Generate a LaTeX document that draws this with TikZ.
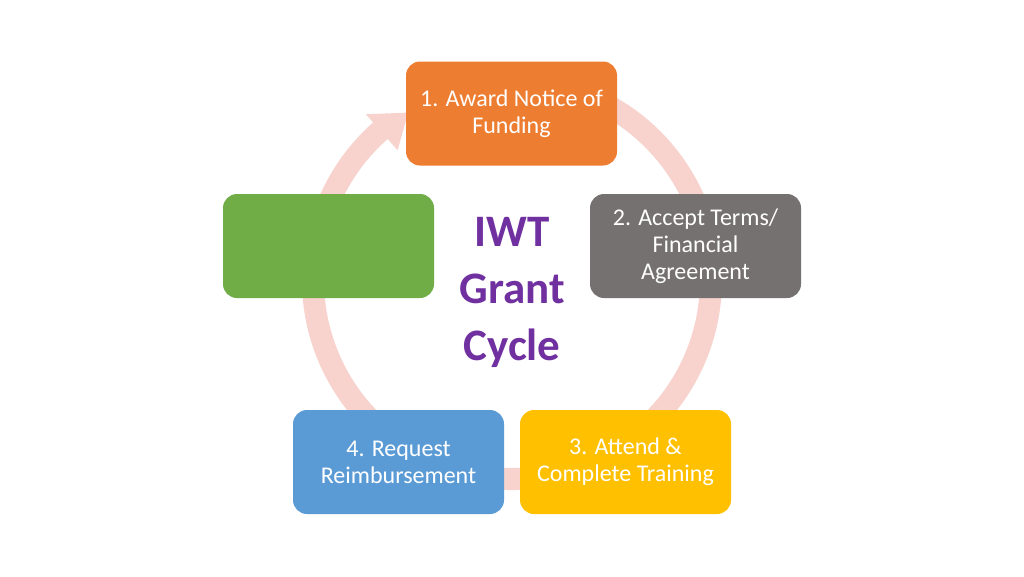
\documentclass[tikz,border=0pt]{standalone}
\usepackage{fontspec}
\setmainfont{Carlito}
\definecolor{ringc}{RGB}{248,211,206}
\definecolor{c1}{HTML}{ED7D31}
\definecolor{c2}{HTML}{767171}
\definecolor{c3}{HTML}{FFC000}
\definecolor{c4}{HTML}{5B9BD5}
\definecolor{c5}{HTML}{70AD47}
\definecolor{titlec}{HTML}{7030A0}
\begin{document}
\begin{tikzpicture}[x=1pt,y=-1pt,
  stagebox/.style={rectangle, rounded corners=14pt, minimum width=211pt, minimum height=104pt,
    inner sep=0pt, text=white, align=center, font=\fontsize{24}{27}\selectfont},
  titletext/.style={text=titlec, align=center, font=\fontsize{45}{57}\selectfont\bfseries}]
\useasboundingbox (0,0) rectangle (1024,576);
\fill[white] (0,0) rectangle (1024,576);
\begin{scope}[shift={(512,280)}]
\fill[ringc] (-80:210) arc[start angle=-80, end angle=228.6, radius=210]
  -- (228.6:221) -- (238.2:197) -- (228.6:173) -- (228.6:188)
  arc[start angle=228.6, end angle=-80, radius=188] -- cycle;
\end{scope}
\node[stagebox, fill=c1] (s1) at (511.5,113.5) {1. Award Notice of\\Funding};
\node[stagebox, fill=c2] (s2) at (695.5,246) {2. Accept Terms/\\Financial\\Agreement};
\node[stagebox, fill=c3] (s3) at (625.5,462) {3. Attend \&\\Complete Training};
\node[stagebox, fill=c4] (s4) at (398.5,462) {4. Request\\Reimbursement};
\node[stagebox, fill=c5] (s5) at (328.5,246) {};
\node[titletext] (title) at (512,292) {IWT\\Grant\\Cycle};
\end{tikzpicture}
\end{document}
